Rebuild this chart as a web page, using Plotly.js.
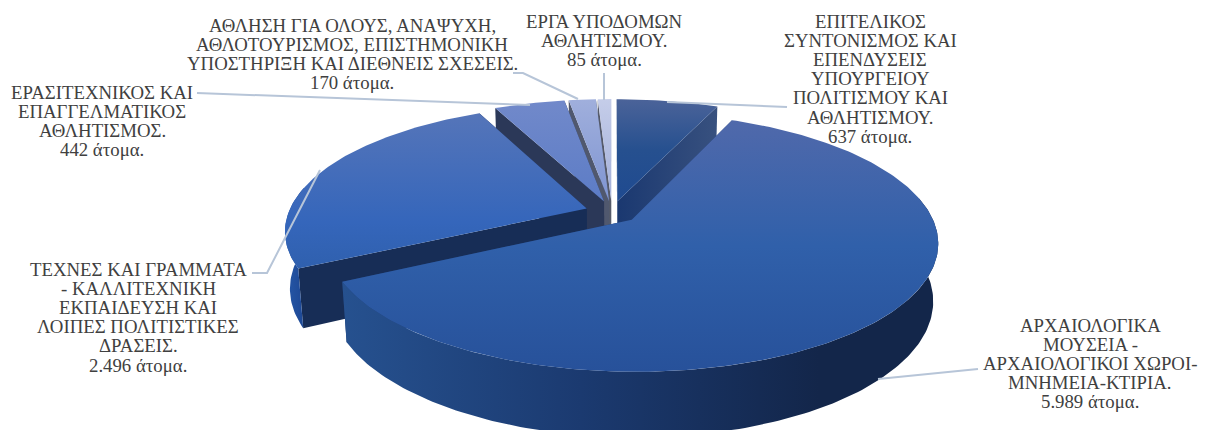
<!DOCTYPE html>
<html>
<head>
<meta charset="utf-8">
<script src="https://cdn.plot.ly/plotly-3.0.1.min.js"></script>
<style>html,body{margin:0;padding:0;background:#fff}#chart{width:1207px;height:430px}</style>
</head>
<body>
<div id="chart"></div>
<script>
// ---- data ----
const categories = [
  "ΕΠΙΤΕΛΙΚΟΣ<br>ΣΥΝΤΟΝΙΣΜΟΣ ΚΑΙ<br>ΕΠΕΝΔΥΣΕΙΣ<br>ΥΠΟΥΡΓΕΙΟΥ<br>ΠΟΛΙΤΙΣΜΟΥ ΚΑΙ<br>ΑΘΛΗΤΙΣΜΟΥ.",
  "ΑΡΧΑΙΟΛΟΓΙΚΑ<br>ΜΟΥΣΕΙΑ -<br>ΑΡΧΑΙΟΛΟΓΙΚΟΙ ΧΩΡΟΙ-<br>ΜΝΗΜΕΙΑ-ΚΤΙΡΙΑ.",
  "ΤΕΧΝΕΣ ΚΑΙ ΓΡΑΜΜΑΤΑ<br>- ΚΑΛΛΙΤΕΧΝΙΚΗ<br>ΕΚΠΑΙΔΕΥΣΗ ΚΑΙ<br>ΛΟΙΠΕΣ ΠΟΛΙΤΙΣΤΙΚΕΣ<br>ΔΡΑΣΕΙΣ.",
  "ΕΡΑΣΙΤΕΧΝΙΚΟΣ ΚΑΙ<br>ΕΠΑΓΓΕΛΜΑΤΙΚΟΣ<br>ΑΘΛΗΤΙΣΜΟΣ.",
  "ΑΘΛΗΣΗ ΓΙΑ ΟΛΟΥΣ, ΑΝΑΨΥΧΗ,<br>ΑΘΛΟΤΟΥΡΙΣΜΟΣ, ΕΠΙΣΤΗΜΟΝΙΚΗ<br>ΥΠΟΣΤΗΡΙΞΗ ΚΑΙ ΔΙΕΘΝΕΙΣ ΣΧΕΣΕΙΣ.",
  "ΕΡΓΑ ΥΠΟΔΟΜΩΝ<br>ΑΘΛΗΤΙΣΜΟΥ."
];
const values = [637, 5989, 2496, 442, 170, 85];
const unit = "άτομα.";

// ---- styles ----
const topColors = [
  [[0,"#4b6399"],[0.5,"#26508f"],[1,"#1f4a90"]],
  [[0,"#5069ab"],[0.5,"#3060aa"],[1,"#27519a"]],
  [[0,"#5575b9"],[0.7,"#3566bb"],[1,"#2f60ae"]],
  [[0,"#7189ca"],[1,"#5c7cc6"]],
  [[0,"#a0afdc"],[1,"#7f95d2"]],
  [[0,"#c5cde9"],[1,"#a2afd9"]]
];
const outerWall = [
  [[0,"#1c3c75"],[1,"#38517f"]],
  [[0,"#26518f"],[0.4,"#1b3a70"],[0.8,"#13264a"],[1,"#13264a"]],
  [[0,"#2658a8"],[1,"#1b4490"]],
  [[0,"#2b3858"],[1,"#2b3858"]],
  [[0,"#50586e"],[1,"#50586e"]],
  [[0,"#555a6a"],[1,"#555a6a"]]
];
const radialWall = [
  [[0,"#1a3870"],[1,"#38517f"]],
  [[0,"#1b3a70"],[1,"#1b3a70"]],
  [[0,"#172d56"],[1,"#172d56"]],
  [[0,"#2b3858"],[1,"#2b3858"]],
  [[0,"#50586e"],[1,"#50586e"]],
  [[0,"#555a6a"],[1,"#555a6a"]]
];
const drawOrder = [5,4,3,0,2,1];
const labelPos = [[870,21],[1090,325],[138,269],[102,92],[352,25],[604,21]];
const lineStep = 19.2;
const leaders = [
  [[667,102],[787,107]],
  [[878,379],[978,369]],
  [[320,170],[267,273],[252,273]],
  [[197,93],[530,105]],
  [[513,73],[523,73],[578,99]],
  [[604,73],[604,100]]
];

// ---- projection of the pie plane onto the chart's axes ----
const X0=612, Y0=212, A=298, B=123, K=0.172, Q=0.015, H=57, EXPLODE=0.09;
function project(u,v,z){ const D=1+K*v+Q*z; return [X0+A*u/D, Y0-(B*v-H*z)/D]; }
const total = values.reduce((a,b)=>a+b,0);
let acc=0;
const spans = values.map(val=>{ const s=acc/total*360; acc+=val; return [s,acc/total*360]; });
const rad = d=>d*Math.PI/180;
function pt(i,r,th,z){
  const m=rad((spans[i][0]+spans[i][1])/2), t=rad(th);
  return project(EXPLODE*Math.sin(m)+r*Math.sin(t), EXPLODE*Math.cos(m)+r*Math.cos(t), z);
}
function arc(i,a,b,z){ const out=[]; const n=Math.max(2,Math.ceil(Math.abs(b-a)));
  for(let k=0;k<=n;k++) out.push(pt(i,1,a+(b-a)*k/n,z)); return out; }
// the y axis runs downwards, so a top-to-bottom scale is flipped for the vertical gradient
const flip = cs=>cs.map(([t,c])=>[1-t,c]).reverse();
function poly(points,type,cs,name){
  return {type:"scatter",mode:"lines",x:points.map(p=>p[0]).concat(points[0][0]),
    y:points.map(p=>p[1]).concat(points[0][1]),fill:"toself",line:{width:0,color:"rgba(0,0,0,0)"},
    fillgradient:{type:type,colorscale:cs},showlegend:false,hoverinfo:name?"text":"skip",text:name||undefined};
}
const traces=[];
drawOrder.forEach(i=>{
  const [a,b]=spans[i];
  const ap0=pt(i,0,a,0), ap1=pt(i,0,a,1);
  traces.push(poly([ap0,pt(i,1,a,0),pt(i,1,a,1),ap1],"horizontal",radialWall[i]));
  traces.push(poly([ap0,pt(i,1,b,0),pt(i,1,b,1),ap1],"horizontal",radialWall[i]));
  const wa=Math.max(a,80), wb=Math.min(b,280);
  if(wb>wa) traces.push(poly(arc(i,wa,wb,0).concat(arc(i,wb,wa,1)),"horizontal",outerWall[i]));
  traces.push(poly([ap0].concat(arc(i,a,b,0)),"vertical",flip(topColors[i]),values[i]+" "+unit));
});
leaders.forEach(l=>traces.push({type:"scatter",mode:"lines",x:l.map(p=>p[0]),y:l.map(p=>p[1]),
  line:{color:"#b7c5d8",width:2},showlegend:false,hoverinfo:"skip"}));
const fmt = n=>String(n).replace(/\B(?=(\d{3})+$)/g,".");
const annotations = [];
categories.forEach((c,i)=>{
  (c+"<br>"+fmt(values[i])+" "+unit).split("<br>").forEach((line,k)=>annotations.push({
    x:labelPos[i][0],y:labelPos[i][1]+k*lineStep,xref:"x",yref:"y",xanchor:"center",yanchor:"middle",align:"center",
    showarrow:false,text:line,font:{family:"Liberation Serif, serif",size:18.8,color:"#404040"},borderpad:0
  }));
});
const layout={width:1207,height:430,margin:{l:0,r:0,t:0,b:0},paper_bgcolor:"#fff",plot_bgcolor:"#fff",
  xaxis:{range:[0,1207],visible:false,fixedrange:true},
  yaxis:{range:[430,0],visible:false,fixedrange:true},
  showlegend:false,annotations:annotations};
Plotly.newPlot("chart",traces,layout,{displayModeBar:false,staticPlot:true});
</script>
</body>
</html>
